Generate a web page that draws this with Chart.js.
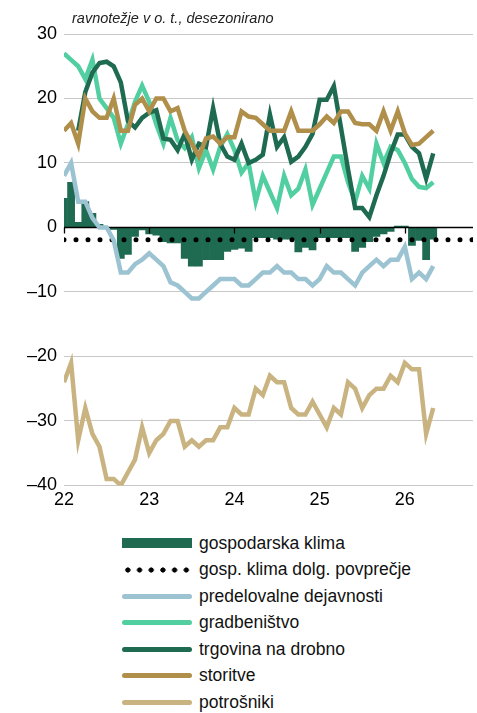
<!DOCTYPE html>
<html>
<head>
<meta charset="utf-8">
<title>Gospodarska klima</title>
<script src="https://cdn.jsdelivr.net/npm/chart.js"></script>
<style>
    body { margin: 0; background: #fff; font-family: "Liberation Sans", Arial, sans-serif; }
    .wrap { position: relative; width: 477px; height: 713px; overflow: hidden; }
    .chart-box { position: absolute; left: 0; top: 0; width: 477px; height: 521px; }
    .subtitle { position: absolute; left: 72px; top: 10px; font-style: italic; font-size: 14.5px; color: #222; }
    .legend { position: absolute; left: 122px; top: 530px; }
    .legend .item { height: 26.5px; display: flex; align-items: center; font-size: 17.5px; color: #111; white-space: nowrap; }
    .legend .sym { width: 70px; margin-right: 7px; flex: none; }
    .sym.bar { height: 10px; background: #1f6b52; }
    .sym.dots { height: 6px; background: radial-gradient(circle, #000 2.3px, transparent 2.9px) 0 0 / 11.7px 6px repeat-x; }
    .sym.line { height: 5px; border-radius: 3px; }
</style>
</head>
<body>
<div class="wrap">
    <div class="chart-box"><canvas id="climateChart" width="477" height="521"></canvas></div>
    <div class="subtitle">ravnotežje v o. t., desezonirano</div>
    <div class="legend" id="legend"></div>
</div>
<script>
    // monthly data, January 2022 to May 2026
    const firstYear = 22;
    const yearTicks = [22, 23, 24, 25, 26];
    const xMax = 26.8;

    const gospodarskaKlima = [4.5, 7, 0.8, 4, 2.2, 0.5, 0, -0.3, -4.8, -4.2, -1.4, -0.4, -1, -1.2, -2.2, -2.4, -2.4,
        -4.8, -6, -6, -5, -5, -5, -3.7, -3.4, -3.2, -3.7, -1.6, -1.6, -1.6, -1.8, -1.8, -1.8, -3.8, -3.1, -3.5,
        -1.6, -1.6, -1.6, -1.6, -1.6, -3.7, -3.1, -2.2, -1.4, -1, -0.6, 0.2, 0.2, -2.8, -2, -5, -1.8];
    const klimaPovprecje = -1.9;
    const predelovalne = [8, 10, 4, 4, 1.5, 0, 0, -2, -7, -7, -5.7, -5, -4, -5, -6, -8.5, -9, -10, -11, -11, -10,
        -9, -8, -8, -8, -9, -9, -8, -7, -7, -6, -7, -7, -8, -8, -9, -8, -6, -7, -7, -8, -9, -7, -6, -5, -6, -5,
        -5, -3, -8, -7, -8, -6];
    const gradbenistvo = [27, 26, 25, 23, 26, 20, 18.5, 17, 13, 16, 19.5, 22, 19.5, 16, 13, 17, 13.5, 12.3, 14,
        9.2, 12, 9, 12.5, 14.5, 12, 8.5, 10, 4, 8, 5.5, 3, 8, 5, 6, 9, 3.5, 6, 8.5, 11, 11, 7, 4, 8, 6, 13, 10,
        12.5, 12, 10, 7.5, 6.3, 6.1, 7];
    const trgovina = [null, null, 15, 21, 24, 25.5, 25.7, 25, 22.5, 16.5, 15.5, 17, 17.8, 18.2, 13.8, 13.6, 12,
        14.5, 10.5, 13, 12.5, 18.5, 13, 11, 10.5, 13, 10, 10.5, 11.3, 17.5, 12.5, 14, 10.2, 11, 12.5, 14.5,
        19.8, 19.8, 21.9, 15.5, 9, 3, 3, 1.6, 5, 8, 11.5, 14.4, 14.4, 12.5, 11.5, 7.6, 11.5];
    const storitve = [15, 16.2, 13, 20, 18, 17, 17, 20, 15, 15, 19, 20, 18, 20, 20, 18, 18.5, 15, 13, 11, 13.8,
        14.1, 13, 14, 14, 18, 17.2, 17, 16, 15, 15, 15, 18, 15, 15, 15, 16, 17.2, 16.2, 18, 18, 16.2, 16, 16,
        15, 18, 15, 18, 14.6, 12.8, 13, 14, 15];
    const potrosniki = [-24, -21, -33, -28, -32, -34, -39, -39, -40, -38, -36, -31, -35, -33, -32, -30, -30, -34,
        -33, -34, -33, -33, -31, -31, -28, -29, -29, -25, -26, -23, -24, -24, -28, -29, -29, -27, -29, -31, -28,
        -29, -24, -25, -28, -26, -25, -25, -23, -24, -21, -22, -22, -32, -28];

    const names = ['gospodarska klima', 'gosp. klima dolg. povprečje', 'predelovalne dejavnosti',
        'gradbeništvo', 'trgovina na drobno', 'storitve', 'potrošniki'];
    const colors = ['#1f6b52', '#000000', '#9cc3d1', '#52cfa1', '#1f6b52', '#b08f4a', '#c9b481'];

    // month i sits at 22 + i/12 on the year axis
    const toPoints = arr => arr.map((v, i) => ({ x: firstYear + i / 12, y: v }));

    function lineSet(label, values, color, order) {
        return {
            type: 'line',
            label: label,
            data: toPoints(values),
            borderColor: color,
            borderWidth: 4.5,
            pointRadius: 0,
            tension: 0,
            fill: false,
            order: order
        };
    }

    // black zero line with year ticks, drawn right after the bars
    const zeroAxis = {
        id: 'zeroAxis',
        afterDatasetDraw(chart, args) {
            if (args.index !== 0) return;
            const { ctx, chartArea, scales } = chart;
            const y0 = Math.round(scales.y.getPixelForValue(0)) + 0.5;
            ctx.save();
            ctx.strokeStyle = '#000';
            ctx.lineWidth = 1.3;
            ctx.beginPath();
            ctx.moveTo(chartArea.left, y0);
            ctx.lineTo(chartArea.right, y0);
            yearTicks.forEach(t => {
                const x = Math.round(scales.x.getPixelForValue(t)) + 0.5;
                ctx.moveTo(x, y0);
                ctx.lineTo(x, y0 + 6);
            });
            ctx.stroke();
            ctx.restore();
        }
    };

    const ctx = document.getElementById('climateChart').getContext('2d');
    const chart = new Chart(ctx, {
        type: 'bar',
        data: {
            datasets: [
                {
                    type: 'bar',
                    label: names[0],
                    data: toPoints(gospodarskaKlima),
                    backgroundColor: colors[0],
                    borderWidth: 0,
                    barPercentage: 1,
                    categoryPercentage: 1,
                    order: 7
                },
                {
                    type: 'line',
                    label: names[1],
                    data: [{ x: firstYear, y: klimaPovprecje }, { x: xMax, y: klimaPovprecje }],
                    borderColor: colors[1],
                    borderWidth: 5,
                    borderDash: [0, 12],
                    borderCapStyle: 'round',
                    pointRadius: 0,
                    fill: false,
                    order: 6
                },
                lineSet(names[2], predelovalne, colors[2], 5),
                lineSet(names[3], gradbenistvo, colors[3], 4),
                lineSet(names[4], trgovina, colors[4], 3),
                lineSet(names[5], storitve, colors[5], 2),
                lineSet(names[6], potrosniki, colors[6], 1)
            ]
        },
        options: {
            responsive: false,
            animation: false,
            layout: { padding: { top: 34, right: 0, bottom: 6, left: 0 } },
            plugins: {
                legend: { display: false },
                tooltip: { enabled: false }
            },
            scales: {
                x: {
                    type: 'linear',
                    min: firstYear,
                    max: xMax,
                    offset: false,
                    grid: { display: false, drawTicks: false, offset: false },
                    border: { display: false },
                    ticks: {
                        stepSize: 1,
                        autoSkip: false,
                        maxRotation: 0,
                        padding: 4,
                        color: '#000',
                        font: { family: 'Liberation Sans', size: 18 },
                        callback: v => Number.isInteger(v) ? String(v) : ''
                    }
                },
                y: {
                    min: -40,
                    max: 30,
                    border: { display: false },
                    grid: {
                        drawTicks: false,
                        lineWidth: 1,
                        color: c => c.tick.value === 0 ? 'rgba(0,0,0,0)' : '#c8c8c8'
                    },
                    ticks: {
                        stepSize: 10,
                        padding: 7,
                        color: '#000',
                        font: { family: 'Liberation Sans', size: 18 },
                        callback: v => v < 0 ? '\u2013' + Math.abs(v) : String(v)
                    },
                    afterFit: s => { s.width = 64; }
                }
            }
        },
        plugins: [zeroAxis]
    });

    // legend as a plain list under the chart
    const symbolClass = ['bar', 'dots', 'line', 'line', 'line', 'line', 'line'];
    const legendEl = document.getElementById('legend');
    names.forEach((name, i) => {
        const item = document.createElement('div');
        item.className = 'item';
        const sym = document.createElement('div');
        sym.className = 'sym ' + symbolClass[i];
        if (symbolClass[i] === 'line') sym.style.background = colors[i];
        const txt = document.createElement('span');
        txt.textContent = name;
        item.appendChild(sym);
        item.appendChild(txt);
        legendEl.appendChild(item);
    });
</script>
</body>
</html>
